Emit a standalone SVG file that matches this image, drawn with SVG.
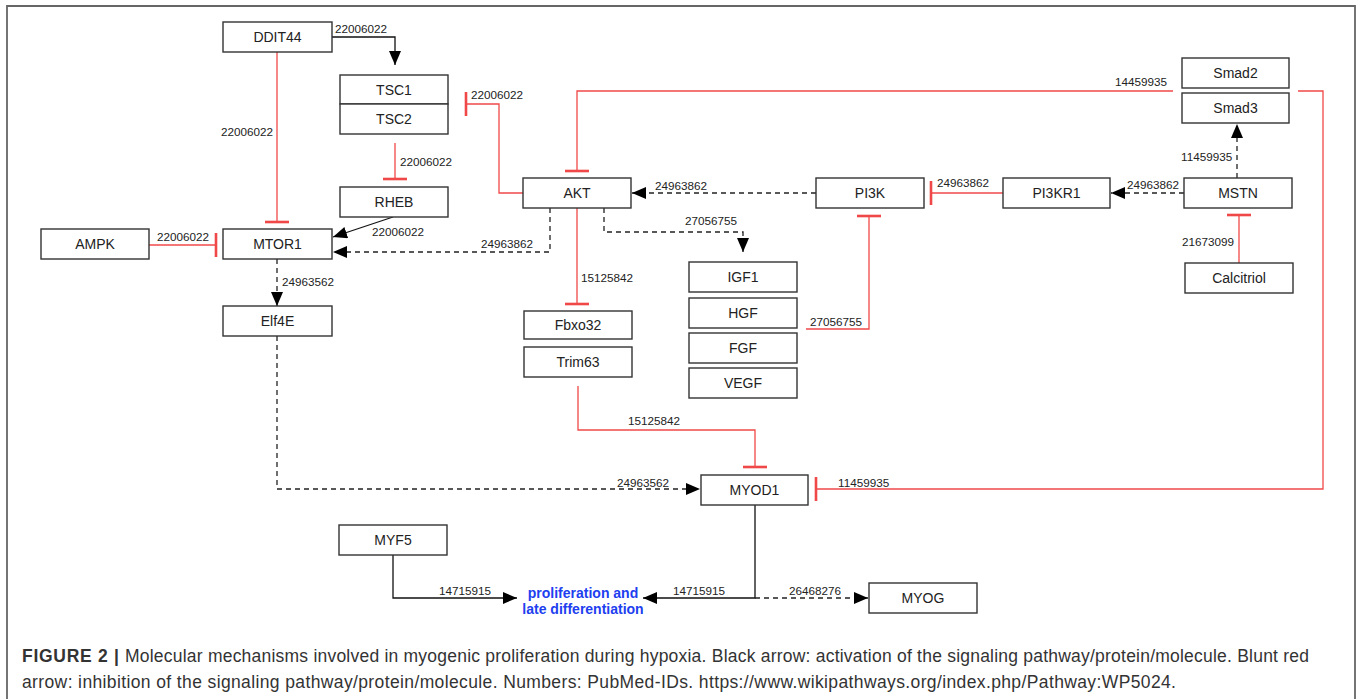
<svg xmlns="http://www.w3.org/2000/svg" width="1362" height="699" viewBox="0 0 1362 699">
<style>
.box{fill:#fff;stroke:#333;stroke-width:1.4}
.nt{font-family:"Liberation Sans",Arial,sans-serif;font-size:14px;fill:#222;text-anchor:middle}
.lb{font-family:"Liberation Sans",Arial,sans-serif;font-size:11.7px;fill:#222}
.act{fill:none;stroke:#111;stroke-width:1.3}
.dash{fill:none;stroke:#222;stroke-width:1.3;stroke-dasharray:5,4}
.inh{fill:none;stroke:#f04848;stroke-width:1.3}
.bar{fill:none;stroke:#f04848;stroke-width:2.6}
.cap{font-family:"Liberation Sans",Arial,sans-serif;font-size:17.5px;fill:#333}
</style>
<defs>
<marker id="arr" markerUnits="userSpaceOnUse" markerWidth="15" markerHeight="13" refX="14" refY="6" orient="auto">
<path d="M0,0 L14,6 L0,12 z" fill="#000"/>
</marker>
</defs>
<path d="M7,703 L7,6 L1355,6 L1355,703" fill="none" stroke="#666" stroke-width="1.8"/>

<g id="connectors">
<polyline class="act" points="332,37 395,37 395,65" marker-end="url(#arr)"/>
<text class="lb" x="335" y="33">22006022</text>
<line class="inh" x1="277" y1="52" x2="277" y2="222"/>
<line class="bar" x1="265" y1="222" x2="289" y2="222"/>
<text class="lb" x="273" y="136" text-anchor="end">22006022</text>
<line class="inh" x1="395" y1="143" x2="395" y2="179"/>
<line class="bar" x1="383" y1="179" x2="407" y2="179"/>
<text class="lb" x="400" y="166">22006022</text>
<line class="act" x1="393" y1="217" x2="333" y2="237" marker-end="url(#arr)"/>
<text class="lb" x="372" y="236">22006022</text>
<line class="inh" x1="149" y1="245" x2="216" y2="245"/>
<line class="bar" x1="216" y1="233" x2="216" y2="257"/>
<text class="lb" x="157" y="241">22006022</text>
<polyline class="dash" points="550,208 550,252 333,252" marker-end="url(#arr)"/>
<text class="lb" x="533" y="248" text-anchor="end">24963862</text>
<polyline class="dash" points="277,259 277,306" marker-end="url(#arr)"/>
<text class="lb" x="282" y="286">24963562</text>
<polyline class="inh" points="523,193 499,193 499,104 466,104"/>
<line class="bar" x1="466" y1="92" x2="466" y2="116"/>
<text class="lb" x="471" y="99">22006022</text>
<polyline class="inh" points="1173,91 577,91 577,171"/>
<line class="bar" x1="565" y1="171" x2="589" y2="171"/>
<text class="lb" x="1167" y="86" text-anchor="end">14459935</text>
<polyline class="inh" points="1298,91 1323,91 1323,489 816,489"/>
<line class="bar" x1="816" y1="477" x2="816" y2="501"/>
<text class="lb" x="838" y="487">11459935</text>
<line class="dash" x1="816" y1="193" x2="632" y2="193" marker-end="url(#arr)"/>
<text class="lb" x="655" y="190">24963862</text>
<polyline class="dash" points="604,208 604,232 743,232 743,252" marker-end="url(#arr)"/>
<text class="lb" x="685" y="225">27056755</text>
<line class="inh" x1="577" y1="208" x2="577" y2="304"/>
<line class="bar" x1="565" y1="304" x2="589" y2="304"/>
<text class="lb" x="581" y="282">15125842</text>
<line class="inh" x1="1003" y1="193" x2="931" y2="193"/>
<line class="bar" x1="931" y1="181" x2="931" y2="205"/>
<text class="lb" x="937" y="187">24963862</text>
<line class="dash" x1="1184" y1="193" x2="1111" y2="193" marker-end="url(#arr)"/>
<text class="lb" x="1127" y="189">24963862</text>
<line class="dash" x1="1237" y1="178" x2="1237" y2="124" marker-end="url(#arr)"/>
<text class="lb" x="1181" y="161">11459935</text>
<line class="inh" x1="1239" y1="263" x2="1239" y2="215"/>
<line class="bar" x1="1227" y1="215" x2="1251" y2="215"/>
<text class="lb" x="1234" y="246" text-anchor="end">21673099</text>
<polyline class="inh" points="806,329 869,329 869,216"/>
<line class="bar" x1="857" y1="216" x2="881" y2="216"/>
<text class="lb" x="810" y="326">27056755</text>
<polyline class="inh" points="578,386 578,430 755,430 755,467"/>
<line class="bar" x1="743" y1="467" x2="767" y2="467"/>
<text class="lb" x="628" y="425">15125842</text>
<polyline class="dash" points="277,336 277,489 700,489" marker-end="url(#arr)"/>
<text class="lb" x="617" y="487">24963562</text>
<polyline class="act" points="755,505 755,598 643,598" marker-end="url(#arr)"/>
<text class="lb" x="673" y="595">14715915</text>
<line class="dash" x1="755" y1="598" x2="868" y2="598" marker-end="url(#arr)"/>
<text class="lb" x="789" y="595">26468276</text>
<polyline class="act" points="393,555 393,598 517,598" marker-end="url(#arr)"/>
<text class="lb" x="439" y="595">14715915</text>
</g>

<g id="DDIT44"><rect class="box" x="223" y="22" width="109" height="30"/><text class="nt" x="277.5" y="42">DDIT44</text></g>
<g id="TSC1"><rect class="box" x="340" y="75" width="108" height="29"/><text class="nt" x="394" y="94.5">TSC1</text></g>
<g id="TSC2"><rect class="box" x="340" y="104" width="108" height="30"/><text class="nt" x="394" y="124">TSC2</text></g>
<g id="RHEB"><rect class="box" x="340" y="187" width="108" height="30"/><text class="nt" x="394" y="207">RHEB</text></g>
<g id="AMPK"><rect class="box" x="41" y="229" width="108" height="30"/><text class="nt" x="95" y="249">AMPK</text></g>
<g id="MTOR1"><rect class="box" x="223" y="229" width="109" height="30"/><text class="nt" x="277.5" y="249">MTOR1</text></g>
<g id="Elf4E"><rect class="box" x="223" y="306" width="109" height="30"/><text class="nt" x="277.5" y="326">Elf4E</text></g>
<g id="AKT"><rect class="box" x="523" y="178" width="108" height="30"/><text class="nt" x="577" y="198">AKT</text></g>
<g id="PI3K"><rect class="box" x="816" y="178" width="108" height="30"/><text class="nt" x="870" y="198">PI3K</text></g>
<g id="PI3KR1"><rect class="box" x="1003" y="178" width="107" height="30"/><text class="nt" x="1056.5" y="198">PI3KR1</text></g>
<g id="MSTN"><rect class="box" x="1184" y="178" width="108" height="30"/><text class="nt" x="1238" y="198">MSTN</text></g>
<g id="Smad2"><rect class="box" x="1182" y="58" width="107" height="30"/><text class="nt" x="1235.5" y="78">Smad2</text></g>
<g id="Smad3"><rect class="box" x="1182" y="93" width="107" height="30"/><text class="nt" x="1235.5" y="113">Smad3</text></g>
<g id="Calcitriol"><rect class="box" x="1185" y="263" width="108" height="30"/><text class="nt" x="1239" y="283">Calcitriol</text></g>
<g id="Fbxo32"><rect class="box" x="524" y="311" width="108" height="28"/><text class="nt" x="578" y="330">Fbxo32</text></g>
<g id="Trim63"><rect class="box" x="524" y="347" width="108" height="30"/><text class="nt" x="578" y="367">Trim63</text></g>
<g id="IGF1"><rect class="box" x="689" y="262" width="108" height="30"/><text class="nt" x="743" y="282">IGF1</text></g>
<g id="HGF"><rect class="box" x="689" y="298" width="108" height="30"/><text class="nt" x="743" y="318">HGF</text></g>
<g id="FGF"><rect class="box" x="689" y="333" width="108" height="30"/><text class="nt" x="743" y="353">FGF</text></g>
<g id="VEGF"><rect class="box" x="689" y="368" width="108" height="30"/><text class="nt" x="743" y="388">VEGF</text></g>
<g id="MYOD1"><rect class="box" x="701" y="475" width="107" height="30"/><text class="nt" x="754.5" y="495">MYOD1</text></g>
<g id="MYF5"><rect class="box" x="339" y="525" width="108" height="30"/><text class="nt" x="393" y="545">MYF5</text></g>
<g id="MYOG"><rect class="box" x="869" y="583" width="108" height="30"/><text class="nt" x="923" y="603">MYOG</text></g>
<g id="proliferation">
<text font-family="Liberation Sans,Arial,sans-serif" font-size="14" font-weight="bold" fill="#2040f0" text-anchor="middle"><tspan x="583" y="598">proliferation and</tspan><tspan x="583" y="614">late differentiation</tspan></text>
</g>

<g id="caption">
<text class="cap" x="22" y="662" font-weight="bold" fill="#222" textLength="97" lengthAdjust="spacing">FIGURE 2 |</text>
<text class="cap" x="125" y="662" textLength="1184" lengthAdjust="spacing">Molecular mechanisms involved in myogenic proliferation during hypoxia. Black arrow: activation of the signaling pathway/protein/molecule. Blunt red</text>
<text class="cap" x="22" y="688" textLength="1154" lengthAdjust="spacing">arrow: inhibition of the signaling pathway/protein/molecule. Numbers: PubMed-IDs. https://www.wikipathways.org/index.php/Pathway:WP5024.</text>
</g>
</svg>
